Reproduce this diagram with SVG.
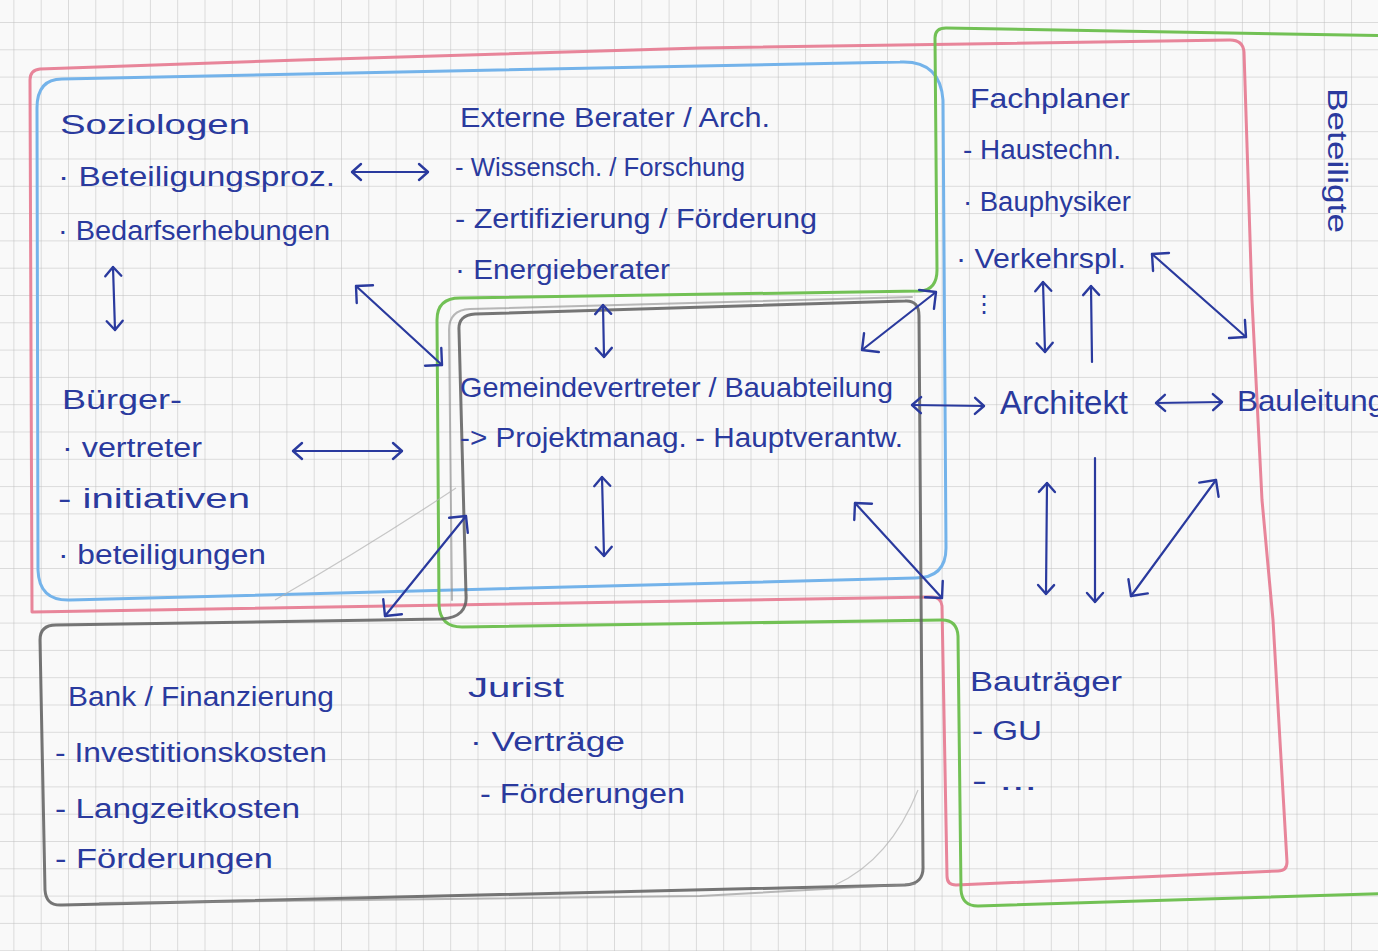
<svg xmlns="http://www.w3.org/2000/svg" width="1378" height="951" viewBox="0 0 1378 951">
<style>
.t{font-family:"Liberation Sans","DejaVu Sans",sans-serif;font-size:27px;fill:#2a3a9e}
.ttl{font-size:28px}
.box{fill:none;stroke-width:3;stroke-linejoin:round;stroke-linecap:round}
.pink{stroke:#e5788f;opacity:.9}
.blue{stroke:#74b3ea}
.green{stroke:#72c155}
.gray{stroke:#5e5e5e;opacity:.85}
.gray2{stroke:#8a8a8a;stroke-width:2;opacity:.6}
.faint{fill:none;stroke:#b0b0b0;stroke-width:1.2;opacity:.7}
.c{fill:none;stroke:#2a3a9e;stroke-width:2.2;stroke-linecap:round}
.s{marker-start:url(#h);marker-end:url(#h)}
.b{marker-start:url(#H);marker-end:url(#H)}
.e{marker-end:url(#h)}
</style>
<defs>
<pattern id="grid" x="13.4" y="22" width="27.3" height="27.3" patternUnits="userSpaceOnUse">
<path d="M0,0 H27.3 M0,0 V27.3" fill="none" stroke="#bdbdbd" stroke-width="1"/>
</pattern>
<marker id="h" viewBox="0 0 20 20" refX="17" refY="10" markerWidth="20" markerHeight="20" markerUnits="userSpaceOnUse" orient="auto-start-reverse">
<path d="M8,2 L17,10 L8,18" fill="none" stroke="#2a3a9e" stroke-width="2.4" stroke-linecap="round" stroke-linejoin="round"/>
</marker>
<marker id="H" viewBox="0 0 28 28" refX="21" refY="14" markerWidth="28" markerHeight="28" markerUnits="userSpaceOnUse" orient="auto-start-reverse">
<path d="M9,2 L21,14 L9,26" fill="none" stroke="#2a3a9e" stroke-width="2.4" stroke-linecap="round" stroke-linejoin="round"/>
</marker>
</defs>
<rect width="1378" height="951" fill="#f9f9f9"/>
<rect width="1378" height="951" fill="url(#grid)"/>

<g id="regions">
<path class="box pink" d="M32,612 L30,80 Q30,70 40,69 L300,60 L700,48 L1230,40 Q1243,40 1244,52 L1252,300 L1262,500 L1273,620 L1287,862 Q1287,871 1278,871 L956,885 Q947,885 947,876 L942,606 Q941,597 932,597 Z"/>
<path class="box blue" d="M37,108 Q37,79 62,79 L400,72 L900,62 Q940,60 943,100 L946,548 Q946,578 915,578 L70,600 Q39,601 38,570 Z"/>
<path class="box green" d="M937,270 L935,38 Q935,28 946,28 L1400,36 L1400,893 L978,906 Q962,906 961,890 L958,636 Q957,620 942,620 L462,627 Q440,627 439,605 L437,320 Q437,298 460,298 L920,291 Q937,290 937,270 Z"/>
<path class="box gray" d="M40,640 Q40,625 56,625 L442,619 Q468,617 466,595 L459,330 Q458,315 475,314 L905,301 Q919,300 919,316 L923,866 Q924,884 905,885 L62,905 Q46,906 45,890 Z"/>
<path class="box gray2" d="M452,600 L449,330 Q449,310 470,309 L912,297"/>
<path class="box gray2" d="M100,903 L700,896 L915,884"/>
<path class="faint" d="M275,600 Q370,545 456,488"/>
<path class="faint" d="M835,885 Q890,860 918,790"/>
</g>

<g id="connectors">
<path class="c s" d="M352,172 L428,172"/>
<path class="c s" d="M113,267 L115,330"/>
<path class="c s" d="M293,451 L402,451"/>
<path class="c b" d="M356,286 L442,365"/>
<path class="c s" d="M603,305 L604,357"/>
<path class="c b" d="M936,292 L862,350"/>
<path class="c s" d="M602,477 L604,556"/>
<path class="c b" d="M466,516 L385,616"/>
<path class="c b" d="M855,503 L942,598"/>
<path class="c s" d="M912,405 L984,406"/>
<path class="c s" d="M1156,403 L1222,402"/>
<path class="c s" d="M1043,282 L1045,352"/>
<path class="c e" d="M1092,362 L1091,286"/>
<path class="c b" d="M1152,254 L1246,337"/>
<path class="c s" d="M1047,483 L1046,594"/>
<path class="c e" d="M1095,458 L1095,602"/>
<path class="c b" d="M1216,480 L1131,596"/>
</g>

<g id="soziologen">
<text class="t ttl" x="60" y="134" textLength="190" lengthAdjust="spacingAndGlyphs">Soziologen</text>
<text class="t" x="58" y="186" textLength="277" lengthAdjust="spacingAndGlyphs">· Beteiligungsproz.</text>
<text class="t" x="58" y="240" textLength="272" lengthAdjust="spacingAndGlyphs">· Bedarfserhebungen</text>
</g>

<g id="buergervertreter">
<text class="t ttl" x="62" y="409" textLength="120" lengthAdjust="spacingAndGlyphs">Bürger-</text>
<text class="t" x="62" y="457" textLength="140" lengthAdjust="spacingAndGlyphs">· vertreter</text>
<text class="t" x="58" y="508" textLength="192" lengthAdjust="spacingAndGlyphs">- initiativen</text>
<text class="t" x="58" y="564" textLength="208" lengthAdjust="spacingAndGlyphs">· beteiligungen</text>
</g>

<g id="externe-berater">
<text class="t ttl" x="460" y="127" textLength="310" lengthAdjust="spacingAndGlyphs">Externe Berater / Arch.</text>
<text class="t" x="455" y="176" style="font-size:26px" textLength="290" lengthAdjust="spacingAndGlyphs">- Wissensch. / Forschung</text>
<text class="t" x="455" y="228" textLength="362" lengthAdjust="spacingAndGlyphs">- Zertifizierung / Förderung</text>
<text class="t" x="455" y="279" textLength="215" lengthAdjust="spacingAndGlyphs">· Energieberater</text>
</g>

<g id="gemeindevertreter">
<text class="t ttl" x="460" y="397" textLength="433" lengthAdjust="spacingAndGlyphs">Gemeindevertreter / Bauabteilung</text>
<text class="t" x="460" y="447" textLength="443" lengthAdjust="spacingAndGlyphs">-&gt; Projektmanag. - Hauptverantw.</text>
</g>

<g id="fachplaner">
<text class="t ttl" x="970" y="108" textLength="160" lengthAdjust="spacingAndGlyphs">Fachplaner</text>
<text class="t" x="963" y="159" textLength="158" lengthAdjust="spacingAndGlyphs">- Haustechn.</text>
<text class="t" x="963" y="211" textLength="168" lengthAdjust="spacingAndGlyphs">· Bauphysiker</text>
<text class="t" x="956" y="268" textLength="170" lengthAdjust="spacingAndGlyphs">· Verkehrspl.</text>
<text class="t" x="972" y="312" style="font-family:'DejaVu Sans',sans-serif;font-size:24px">⋮</text>
</g>

<g id="architekt">
<text class="t" x="1000" y="414" style="font-size:34px" textLength="128" lengthAdjust="spacingAndGlyphs">Architekt</text>
</g>

<g id="bauleitung">
<text class="t" x="1237" y="411" style="font-size:30px" textLength="148" lengthAdjust="spacingAndGlyphs">Bauleitung</text>
</g>

<g id="beteiligte">
<text class="t" transform="translate(1328,88) rotate(90)" x="0" y="0" textLength="145" lengthAdjust="spacingAndGlyphs">Beteiligte</text>
</g>

<g id="bank">
<text class="t ttl" x="68" y="706" textLength="266" lengthAdjust="spacingAndGlyphs">Bank / Finanzierung</text>
<text class="t" x="55" y="762" textLength="272" lengthAdjust="spacingAndGlyphs">- Investitionskosten</text>
<text class="t" x="55" y="818" textLength="245" lengthAdjust="spacingAndGlyphs">- Langzeitkosten</text>
<text class="t" x="55" y="868" textLength="218" lengthAdjust="spacingAndGlyphs">- Förderungen</text>
</g>

<g id="jurist">
<text class="t ttl" x="468" y="697" textLength="96" lengthAdjust="spacingAndGlyphs">Jurist</text>
<text class="t" x="470" y="751" textLength="155" lengthAdjust="spacingAndGlyphs">· Verträge</text>
<text class="t" x="480" y="803" textLength="205" lengthAdjust="spacingAndGlyphs">- Förderungen</text>
</g>

<g id="bautraeger">
<text class="t ttl" x="970" y="691" textLength="152" lengthAdjust="spacingAndGlyphs">Bauträger</text>
<text class="t" x="972" y="740" textLength="70" lengthAdjust="spacingAndGlyphs">- GU</text>
<text class="t" x="972" y="790" textLength="65" lengthAdjust="spacingAndGlyphs">- ...</text>
</g>
</svg>
